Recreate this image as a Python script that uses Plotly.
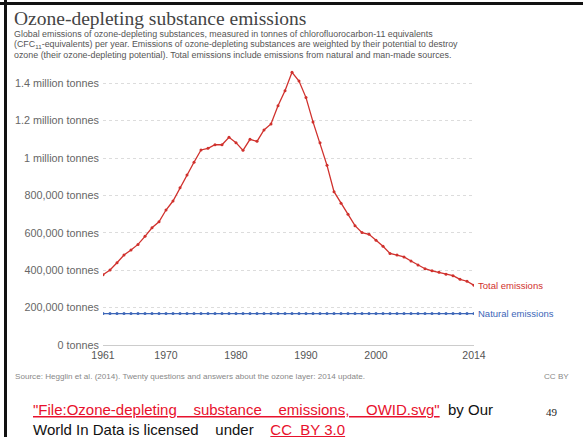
import plotly.graph_objects as go

years = [1961, 1962, 1963, 1964, 1965, 1966, 1967, 1968, 1969, 1970,
         1971, 1972, 1973, 1974, 1975, 1976, 1977, 1978, 1979, 1980,
         1981, 1982, 1983, 1984, 1985, 1986, 1987, 1988, 1989, 1990,
         1991, 1992, 1993, 1994, 1995, 1996, 1997, 1998, 1999, 2000,
         2001, 2002, 2003, 2004, 2005, 2006, 2007, 2008, 2009, 2010,
         2011, 2012, 2013, 2014]

total_emissions = [376000, 401000, 440000, 481000, 508000, 538000, 581000, 627000, 659000, 722000,
                   770000, 841000, 909000, 977000, 1043000, 1052000, 1071000, 1071000, 1111000, 1082000,
                   1041000, 1100000, 1089000, 1150000, 1182000, 1280000, 1360000, 1458000, 1412000, 1323000,
                   1193000, 1082000, 961000, 820000, 758000, 699000, 638000, 601000, 592000, 560000,
                   528000, 490000, 481000, 471000, 449000, 428000, 408000, 397000, 389000, 378000,
                   371000, 351000, 341000, 319000]

natural_emissions = [168000, 168000, 168000, 168000, 168000, 168000, 168000, 168000, 168000, 168000,
                     168000, 168000, 168000, 168000, 168000, 168000, 168000, 168000, 168000, 168000,
                     168000, 168000, 168000, 168000, 168000, 168000, 168000, 168000, 168000, 168000,
                     168000, 168000, 168000, 168000, 168000, 168000, 168000, 168000, 168000, 168000,
                     168000, 168000, 168000, 168000, 168000, 168000, 168000, 168000, 168000, 168000,
                     168000, 168000, 168000, 168000]

y_tickvals = [0, 200000, 400000, 600000, 800000, 1000000, 1200000, 1400000]
y_ticktext = ["0 tonnes", "200,000 tonnes", "400,000 tonnes", "600,000 tonnes",
              "800,000 tonnes", "1 million tonnes", "1.2 million tonnes", "1.4 million tonnes"]
x_tickvals = [1961, 1970, 1980, 1990, 2000, 2014]
x_ticktext = ["1961", "1970", "1980", "1990", "2000", "2014"]

title_text = "Ozone-depleting substance emissions"
subtitle_lines = [
    "Global emissions of ozone-depleting substances, measured in tonnes of chlorofluorocarbon-11 equivalents",
    "(CFC<sub>11</sub>-equivalents) per year. Emissions of ozone-depleting substances are weighted by their potential to destroy",
    "ozone (their ozone-depleting potential). Total emissions include emissions from natural and man-made sources.",
]
source_text = "Source: Hegglin et al. (2014). Twenty questions and answers about the ozone layer: 2014 update."

RED = "#d0312d"
BLUE = "#3d66b8"

W, H = 583, 437
L, R_ = 103, 474   # plot area pixel extents
T, B = 70, 345


def px(x):
    return (x - L) / (R_ - L)


def py(y):
    return (B - y) / (B - T)


fig = go.Figure()
fig.add_trace(go.Scatter(x=years, y=total_emissions, mode="lines+markers",
                         line=dict(color=RED, width=1.3), marker=dict(color=RED, size=3),
                         name="Total emissions", showlegend=False))
fig.add_trace(go.Scatter(x=years, y=natural_emissions, mode="lines+markers",
                         line=dict(color=BLUE, width=1.3), marker=dict(color=BLUE, size=3),
                         name="Natural emissions", showlegend=False))

ann = []
FONT = "Liberation Sans, Arial, sans-serif"
SERIF = "Liberation Serif, Times New Roman, serif"


def pann(text, x, y, xanchor="left", yanchor="middle", **kw):
    d = dict(text=text, x=px(x), y=py(y), xref="paper", yref="paper",
             xanchor=xanchor, yanchor=yanchor, showarrow=False)
    d.update(kw)
    ann.append(d)


pann(title_text, 12, 19, font=dict(family=SERIF, size=19.5, color="#444"))
for i, ln in enumerate(subtitle_lines):
    pann(ln, 12, 34.5 + 10.2 * i, font=dict(family=FONT, size=8.9, color="#555"))

ann.append(dict(text="Total emissions", x=2014, y=total_emissions[-1], xanchor="left", yanchor="middle",
                xshift=2, showarrow=False, font=dict(family=FONT, size=9.5, color=RED)))
ann.append(dict(text="Natural emissions", x=2014, y=natural_emissions[-1], xanchor="left", yanchor="middle",
                xshift=2, showarrow=False, font=dict(family=FONT, size=9.5, color=BLUE)))
pann(source_text, 13, 376, font=dict(family=FONT, size=8.1, color="#888"))
pann("CC BY", 571, 376, xanchor="right", font=dict(family=FONT, size=8.1, color="#888"))

nb = "\u00a0"
line1 = ('<span style="color:#e8112d"><u>"File:Ozone-depleting' + nb * 4 + 'substance' + nb * 4 +
         'emissions,' + nb * 4 + 'OWID.svg"</u></span>' + nb * 2 + 'by Our')
pann(line1, 31, 409, font=dict(family=FONT, size=15, color="#111"))
line2 = ('World In Data is licensed' + nb * 4 + 'under' + nb * 4 +
         '<span style="color:#e8112d"><u>CC' + nb * 2 + 'BY 3.0</u></span>')
pann(line2, 31, 429, font=dict(family=FONT, size=15, color="#111"))
pann("49", 544, 412, font=dict(family=SERIF, size=11, color="#222"))

shapes = [
    dict(type="line", xref="paper", yref="paper", x0=px(0), x1=px(W), y0=py(3.5), y1=py(3.5),
         line=dict(color="#111", width=3)),
    dict(type="line", xref="paper", yref="paper", x0=px(5.5), x1=px(5.5), y0=py(0), y1=py(H),
         line=dict(color="#111", width=3)),
]

fig.update_layout(
    width=W, height=H,
    margin=dict(l=L, r=W - R_, t=T, b=H - B, pad=0),
    paper_bgcolor="white", plot_bgcolor="white",
    annotations=ann, shapes=shapes,
    xaxis=dict(range=[1961, 2014], tickvals=x_tickvals, ticktext=x_ticktext, showgrid=False,
               zeroline=False, showline=False, ticks="", ticklabelstandoff=2,
               tickfont=dict(family=FONT, size=10.5, color="#555")),
    yaxis=dict(range=[0, 1470700], tickvals=y_tickvals, ticktext=y_ticktext, showgrid=True,
               gridcolor="#dcdcdc", griddash="dot", gridwidth=1, zeroline=True, zerolinecolor="#ccc",
               zerolinewidth=1, showline=False, ticks="", ticklabelstandoff=3,
               tickfont=dict(family=FONT, size=10.8, color="#666")),
)

fig.write_html("out.html", config={"displayModeBar": False},
               post_script="document.body.style.margin='0';document.body.style.overflow='hidden';")
